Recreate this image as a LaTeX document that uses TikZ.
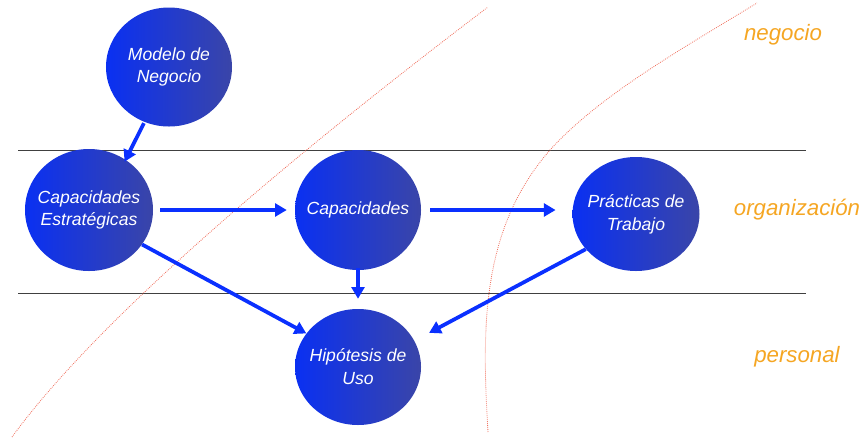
\documentclass[tikz,border=0pt]{standalone}
\usepackage{fontspec}
\usetikzlibrary{arrows.meta,shapes.geometric}
\newfontfamily\hv{Liberation Sans}
\definecolor{bubbleL}{HTML}{0A30F2}
\definecolor{bubbleR}{HTML}{3A45A8}
\definecolor{flow}{HTML}{0A30FF}
\definecolor{layer}{HTML}{F5A623}
\definecolor{bound}{HTML}{F0705E}
\begin{document}
\begin{tikzpicture}[x=0.03cm,y=-0.03cm,
  bubble/.style={ellipse, inner xsep=-30pt, inner ysep=-20pt,
    left color=bubbleL, right color=bubbleR, draw=none,
    text=white, align=center, font=\hv\itshape\fontsize{15}{19.5}\selectfont},
  flowarrow/.style={draw=flow, line width=3.2pt,
    -{Triangle[length=10pt,width=11pt]}},
  layerline/.style={draw=black!75, line width=0.6pt},
  layerlabel/.style={text=layer, font=\hv\itshape\fontsize{19}{22}\selectfont},
  boundary/.style={draw=bound, line width=0.7pt, dash pattern=on 0.7pt off 1pt}]
  \useasboundingbox (0,0) rectangle (867,440);

  % layer separators
  \draw[layerline] (18,150) -- (806,150);
  \draw[layerline] (18,293) -- (806,293);

  % dotted boundaries
  \draw[boundary] (12,437) .. controls (90,330) and (260,180) .. (488,7);
  \draw[boundary] (488,432) .. controls (482,330) and (480,230) .. (550,150)
                  .. controls (600,95) and (680,50) .. (757,3);

  % bubbles
  \node[bubble, minimum width=3.78cm, minimum height=3.57cm] (mn) at (169,67) {Modelo de\\Negocio};
  \node[bubble, minimum width=3.84cm, minimum height=3.66cm] (ce) at (89,210) {Capacidades\\Estratégicas};
  \node[bubble, minimum width=3.78cm, minimum height=3.60cm] (ca) at (358,210) {Capacidades};
  \node[bubble, minimum width=3.81cm, minimum height=3.42cm] (pt) at (636,214) {Prácticas de\\Trabajo};
  \node[bubble, minimum width=3.78cm, minimum height=3.48cm] (hu) at (358,367) {Hipótesis de\\Uso};

  % layer names
  \node[layerlabel] (lneg) at (783,35) {negocio};
  \node[layerlabel] (lorg) at (797,210) {organización};
  \node[layerlabel] (lper) at (797,357) {personal};

  % connectors
  \draw[flowarrow, shorten <=1pt, shorten >=-2pt] (mn.-114) -- (ce.54);
  \draw[flowarrow, shorten <=0.21cm, shorten >=0.24cm] (ce.east) -- (ca.west);
  \draw[flowarrow, shorten <=0.27cm, shorten >=0.5cm] (ca.east) -- (ca.east -| pt.west);
  \draw[flowarrow, shorten <=-0.06cm, shorten >=0.3cm] (ca.south) -- (hu.north);
  \draw[flowarrow, shorten <=0pt, shorten >=0pt] (ce.-33) -- (hu.147);
  \draw[flowarrow, shorten <=0pt, shorten >=0.5cm] (pt.-145) -- (hu.25);
\end{tikzpicture}
\end{document}
